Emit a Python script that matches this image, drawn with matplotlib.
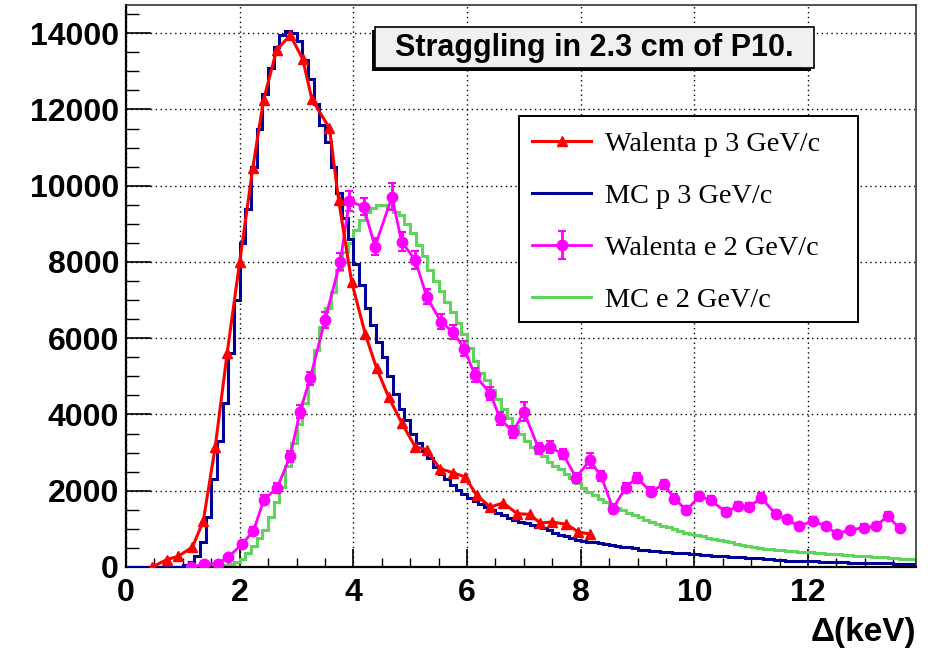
import numpy as np
import matplotlib
matplotlib.use("Agg")
import matplotlib.pyplot as plt
from matplotlib.patches import Rectangle
from matplotlib.ticker import MultipleLocator

# --- data ---
# MC histograms, 0.1 keV bins from 0 to 13.9 keV
mc_p3 = [0, 0, 0, 0, 0, 0, 0, 0, 0, 10,
         40, 120, 300, 650, 1300, 2300, 3300, 4300, 5600, 7000,
         8500, 9400, 10500, 11500, 12400, 13100, 13650, 13950, 14050, 14000,
         13800, 13300, 12800, 12150, 11600, 11150, 10500, 9800, 9150, 8600,
         7950, 7400, 6800, 6350, 5900, 5500, 5000, 4550, 4150, 3850,
         3500, 3250, 3050, 2850, 2620, 2450, 2300, 2150, 2030, 1920,
         1820, 1730, 1640, 1570, 1490, 1420, 1360, 1290, 1240, 1190,
         1150, 1100, 1060, 1020, 960, 900, 850, 800, 760, 720,
         690, 665, 645, 625, 610, 585, 560, 535, 515, 490,
         450, 440, 425, 415, 405, 395, 380, 365, 355, 345,
         335, 325, 315, 300, 290, 280, 270, 260, 250, 245,
         235, 225, 210, 200, 185, 175, 170, 165, 160, 155,
         150, 145, 140, 135, 130, 128, 122, 118, 112, 108,
         105, 100, 97, 94, 92, 90, 90, 88, 88]

mc_e2 = [0, 0, 0, 0, 0, 0, 0, 0, 0, 0,
         0, 0, 0, 0, 0, 0, 10, 40, 90, 140,
         200, 380, 560, 760, 980, 1300, 1700, 2100, 2650, 3250,
         3750, 4300, 5000, 5700, 6300, 6800, 7200, 7800, 8250, 8500,
         8850, 9100, 9300, 9420, 9500, 9500, 9400, 9320, 9220, 9000,
         8750, 8450, 8150, 7800, 7500, 7250, 6950, 6680, 6400, 6100,
         5750, 5400, 5100, 4900, 4650, 4400, 4150, 3900, 3700, 3480,
         3300, 3150, 3020, 2900, 2750, 2640, 2560, 2450, 2330, 2200,
         2060, 1980, 1880, 1790, 1700, 1620, 1550, 1490, 1420, 1360,
         1300, 1240, 1180, 1130, 1080, 1040, 990, 950, 900, 860,
         830, 800, 770, 740, 710, 690, 650, 610, 570, 545,
         525, 505, 485, 465, 450, 440, 425, 415, 405, 400,
         390, 375, 360, 350, 340, 330, 320, 310, 300, 290,
         285, 275, 265, 250, 240, 230, 220, 215, 210]

walenta_p3_x = [0.46, 0.72, 0.92, 1.17, 1.36, 1.57, 1.78, 2.00, 2.23, 2.42,
                2.65, 2.89, 3.11, 3.27, 3.58, 3.74, 3.97, 4.21, 4.41, 4.62,
                4.85, 5.09, 5.29, 5.52, 5.76, 5.97, 6.17, 6.41, 6.64, 6.88,
                7.10, 7.29, 7.49, 7.75, 7.96, 8.17]
walenta_p3_y = [0, 195, 280, 525, 1207, 3150, 5610, 8000, 10460, 12250,
                13560, 13950, 13320, 12270, 11510, 9630, 7480, 6110, 5210, 4460,
                3780, 3150, 3080, 2580, 2470, 2360, 1880, 1575, 1680, 1400,
                1380, 1155, 1180, 1120, 920, 860]

walenta_e2_x = [1.14, 1.38, 1.61, 1.80, 2.04, 2.24, 2.43, 2.66, 2.89, 3.06,
                3.24, 3.50, 3.77, 3.93, 4.18, 4.38, 4.68, 4.85, 5.09, 5.29,
                5.54, 5.75, 5.95, 6.14, 6.41, 6.58, 6.81, 7.00, 7.26, 7.46,
                7.69, 7.92, 8.16, 8.36, 8.57, 8.79, 8.99, 9.23, 9.46, 9.65,
                9.86, 10.09, 10.29, 10.55, 10.77, 10.96, 11.18, 11.43, 11.63, 11.84,
                12.09, 12.31, 12.51, 12.73, 12.98, 13.19, 13.40, 13.61]
walenta_e2_y = [0, 70, 90, 260, 595, 945, 1770, 2080, 2905, 4070,
                4945, 6475, 8005, 9600, 9450, 8400, 9710, 8530, 8050, 7090,
                6430, 6170, 5730, 5030, 4550, 3895, 3545, 4070, 3110, 3150,
                2960, 2345, 2800, 2380, 1530, 2085, 2345, 1970, 2170, 1795,
                1490, 1855, 1750, 1445, 1595, 1575, 1820, 1385, 1250, 1070,
                1210, 1070, 875, 965, 1035, 1070, 1330, 1025]
walenta_e2_err = [30, 40, 40, 60, 80, 100, 120, 130, 150, 170,
                  180, 200, 220, 250, 230, 220, 350, 250, 230, 200,
                  200, 190, 190, 180, 170, 160, 160, 250, 150, 150,
                  140, 130, 200, 130, 110, 120, 130, 120, 120, 110,
                  100, 110, 110, 100, 100, 100, 110, 100, 90, 80,
                  90, 80, 80, 80, 80, 80, 100, 80]

labels = ["Walenta p 3 GeV/c", "MC p 3 GeV/c", "Walenta e 2 GeV/c", "MC e 2 GeV/c"]
title = "Straggling in 2.3 cm of P10."

W, H = 934, 656
fig = plt.figure(figsize=(W / 100, H / 100), dpi=100)
ax = fig.add_axes([126 / W, 1 - 567 / H, 790 / W, 562 / H])

edges = np.linspace(0, 13.9, len(mc_p3) + 1)

h_p3 = ax.stairs(mc_p3, edges, color="#000099", lw=2.2, zorder=3)
h_e2 = ax.stairs(mc_e2, edges, color="#5fd45a", lw=2.2, zorder=2)
l_wp, = ax.plot(walenta_p3_x, walenta_p3_y, color="red", lw=2.2, marker="^",
                ms=7, zorder=5)
l_we = ax.errorbar(walenta_e2_x, walenta_e2_y, yerr=walenta_e2_err, color="#ff00ff",
                   lw=2, marker="o", ms=7.5, capsize=3, capthick=1.5, zorder=4)

ax.set_xlim(0, 13.9)
ax.set_ylim(0, 14740)
ax.xaxis.set_major_locator(MultipleLocator(2))
ax.xaxis.set_minor_locator(MultipleLocator(0.5))
ax.yaxis.set_major_locator(MultipleLocator(2000))
ax.yaxis.set_minor_locator(MultipleLocator(500))
ax.grid(True, which="major", color="black", ls=(0, (1, 2.5)), lw=1.0)
ax.set_axisbelow(True)

ax.tick_params(axis="x", which="major", direction="in", length=13, width=1.2,
               labelsize=23, pad=8, top=False)
ax.tick_params(axis="x", which="minor", direction="in", length=6.5, width=1.0, top=False)
ax.tick_params(axis="y", which="major", direction="in", length=18, width=1.2,
               labelsize=23, pad=5, right=False)
ax.tick_params(axis="y", which="minor", direction="in", length=9, width=1.0, right=False)
for lab in ax.get_xticklabels() + ax.get_yticklabels():
    lab.set_fontfamily("Liberation Sans")
    lab.set_fontweight("bold")
for side in ["left", "bottom"]:
    ax.spines[side].set_linewidth(1.6)
for side in ["top", "right"]:
    ax.spines[side].set_linewidth(1.2)
    ax.spines[side].set_color("#333333")

fig.text(916 / W, 1 - 633 / H, "\u0394(keV)", ha="right", va="center",
         fontsize=24, fontweight="bold", family="Liberation Sans")

# title box with shadow
fig.patches.append(Rectangle((372 / W, 1 - 71 / H), 439 / W, 41 / H,
                             transform=fig.transFigure, facecolor="black",
                             edgecolor="none", zorder=10))
fig.patches.append(Rectangle((375 / W, 1 - 68 / H), 439 / W, 41 / H,
                             transform=fig.transFigure, facecolor="#f0f0f0",
                             edgecolor="black", lw=1.2, zorder=11))
fig.text(594 / W, 1 - 48 / H, title, ha="center", va="center", fontsize=22,
         fontweight="bold", family="Liberation Sans", zorder=12)

# legend box
fig.patches.append(Rectangle((519 / W, 1 - 322 / H), 339 / W, 206 / H,
                             transform=fig.transFigure, facecolor="white",
                             edgecolor="black", lw=1.4, zorder=10))
leg = fig.legend([l_wp, h_p3, l_we, h_e2], labels, loc="upper left",
                 bbox_to_anchor=(532 / W, 1 - 131 / H), frameon=False,
                 prop={"family": "Liberation Serif", "size": 20.3},
                 handlelength=2.1, handletextpad=0.5, labelspacing=0.93,
                 borderpad=0, borderaxespad=0)
leg.set_zorder(12)

plt.savefig("out.png", dpi=100)
